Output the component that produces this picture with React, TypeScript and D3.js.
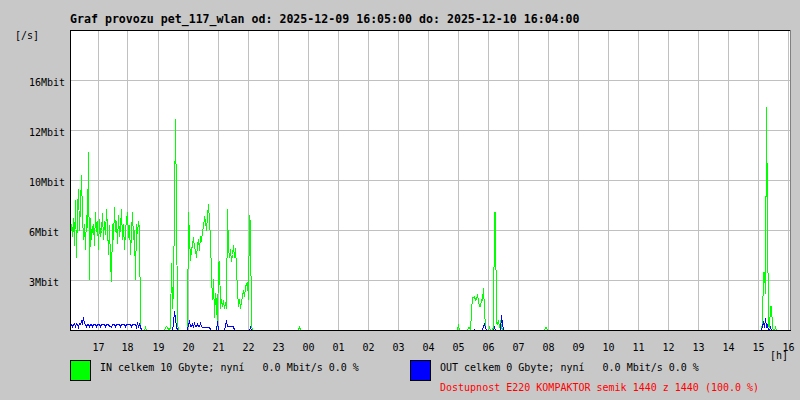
import React from "react";
import * as d3 from "d3";

const TITLE = "Graf provozu pet_117_wlan od: 2025-12-09 16:05:00 do: 2025-12-10 16:04:00";
const Y_UNIT_LABEL = "[/s]";
const X_UNIT_LABEL = "[h]";
const Y_MAX = 20;
const Y_TICK_VALUES = [10 / 3, 20 / 3, 10, 40 / 3, 50 / 3];
const Y_TICK_LABELS = ["3Mbit", "6Mbit", "10Mbit", "12Mbit", "16Mbit"];
const HOUR_LABELS = ["17", "18", "19", "20", "21", "22", "23", "00", "01", "02", "03", "04", "05", "06", "07", "08", "09", "10", "11", "12", "13", "14", "15", "16"];
const FIRST_HOUR_OFFSET_MIN = 55; // 17:00 is 55 min after 16:05
const TOTAL_MIN = 1440;
const STEP_MIN = 2;

// segment start (minutes after 16:05)
const SEGMENT_STARTS = [0, 150, 190, 236, 456, 776, 950, 1384];

// IN traffic (Mbit/s)
const IN_A = [6.6, 7.1, 6.3, 7.5, 5.7, 8.7, 4.9, 8.1, 9.4, 6.7, 8.4, 10.3, 7.7, 6.1, 7.1, 5.4, 7.7, 6.9, 11.9, 3.4, 7.5, 6.1, 6.9, 7.1, 5.7, 7.9, 6.6, 7.3, 5.4, 7.4, 6.3, 6.7, 7.8, 6.1, 7.3, 6.4, 8.1, 6.9, 5.1, 7.0, 4.6, 3.3, 7.1, 6.1, 8.2, 6.6, 7.3, 5.8, 7.7, 6.3, 6.9, 8.1, 6.1, 7.1, 5.4, 6.7, 7.4, 7.9, 6.2, 7.0, 5.1, 6.6, 7.9, 6.1, 6.7, 3.4, 7.1, 6.5, 7.3, 6.9, 0.4, 0];
const IN_A2 = [0.2];
const IN_B = [0.2, 0.3, 0.2, 0.1, 0, 0.3, 4.5, 1.5, 2.7, 8.3, 14.1, 8.3, 0.5, 0];
const IN_C = [7.9, 6.2, 4.7, 5.4, 5.7, 6.2, 5.5, 5.4, 4.9, 5.7, 6.1, 5.3, 6.3, 5.9, 6.7, 6.9, 7.6, 7.3, 6.7, 7.7, 8.4, 7.3, 6.2, 3.6, 2.1, 3.4, 0.9, 2.5, 1.9, 0.3, 4.5, 4.6, 1.5, 2.1, 1.6, 2.0, 1.5, 1.9, 1.5, 8.1, 5.5, 4.9, 5.4, 4.6, 5.1, 5.7, 4.9, 5.5, 4.2, 2.6, 1.6, 2.1, 1.5, 1.9, 2.3, 2.7, 2.3, 2.9, 3.1, 3.2, 2.1, 7.7, 7.1, 0.4, 0];
const IN_D = [0.1, 0.2, 0.1, 0];
const IN_E = [0.4, 0, 0, 0, 0, 0, 0, 0, 0, 0, 0.2, 0.2, 0, 1.3, 2.2, 2.2, 2.3, 2.0, 2.1, 2.4, 2.0, 1.6, 1.6, 2.1, 2.0, 2.8, 1.4, 0.2, 0, 0, 0, 0.2, 0, 0, 0, 0.3, 7.9, 7.9, 0.5, 0.4, 0.7, 0.2, 0.7, 0.3, 0];
const IN_F = [0.2, 0.2, 0];
const IN_G = [0.6, 3.9, 3.9, 2.5, 14.9, 7.5, 0.3, 0.2, 1.6, 1.6, 0.2, 0, 0, 0.2, 0];

// OUT traffic (Mbit/s)
const OUT_A = [0.4, 0.4, 0.3, 0.4, 0.5, 0.3, 0.5, 0.4, 0.2, 0.5, 0.4, 0.6, 0.5, 0.9, 0.5, 0.4, 0.3, 0.4, 0.4, 0.3, 0.4, 0.4, 0.3, 0.4, 0.4, 0.4, 0.3, 0.4, 0.4, 0.4, 0.3, 0.4, 0.4, 0.4, 0.4, 0.3, 0.4, 0.4, 0.4, 0.3, 0.3, 0.2, 0.4, 0.4, 0.4, 0.3, 0.4, 0.4, 0.4, 0.4, 0.3, 0.4, 0.4, 0.4, 0.4, 0.3, 0.4, 0.4, 0.4, 0.4, 0.4, 0.3, 0.4, 0.4, 0.4, 0.4, 0.2, 0.5, 0.3, 0.4, 0.3, 0];
const OUT_B = [0, 0, 0, 0, 0, 0, 0, 0, 0.5, 1.3, 0.8, 0.3, 0, 0];
const OUT_C = [0.4, 0.6, 0.3, 0.3, 0.4, 0.3, 0.5, 0.3, 0.3, 0.4, 0.3, 0.3, 0.5, 0.3, 0.2, 0.2, 0.2, 0.2, 0.2, 0.2, 0.2, 0.2, 0.1, 0, 0, 0, 0, 0, 0, 0.6, 0, 0, 0, 0, 0, 0, 0, 0.3, 0.7, 0.3, 0.3, 0.3, 0.3, 0.3, 0.3, 0.3, 0, 0, 0, 0, 0, 0, 0, 0, 0, 0, 0, 0, 0, 0, 0, 0, 0.2, 0, 0];
const OUT_E = [0, 0, 0, 0, 0, 0, 0, 0, 0, 0, 0, 0, 0, 0, 0, 0, 0.1, 0, 0, 0, 0, 0, 0, 0, 0, 0.3, 0.4, 0.2, 0, 0, 0, 0, 0, 0, 0, 0, 0.2, 0, 0, 0, 0, 0, 0, 1.0, 0.5];
const OUT_G = [0.3, 0.6, 0.2, 0.8, 0.2, 0.4, 0, 0, 0.2, 0, 0, 0, 0, 0, 0];

const IN_SEGMENTS = [IN_A, IN_A2, IN_B, IN_C, IN_D, IN_E, IN_F, IN_G];
const OUT_SEGMENTS = [OUT_A, [], OUT_B, OUT_C, [], OUT_E, [], OUT_G];

const LEGEND_IN = "IN celkem 10 Gbyte; nyní   0.0 Mbit/s 0.0 %";
const LEGEND_OUT = "OUT celkem 0 Gbyte; nyní   0.0 Mbit/s 0.0 %";
const AVAILABILITY = "Dostupnost E220 KOMPAKTOR semik 1440 z 1440 (100.0 %)";

const BG = "#c8c8c8";
const GRID = "#c0c0c0";
const IN_COLOR = "#00ff00";
const OUT_COLOR = "#0000ff";
const MONO = "'DejaVu Sans Mono', 'Liberation Mono', monospace";

function buildSeries(segments: number[][]): number[] {
  const n = TOTAL_MIN / STEP_MIN;
  const s = new Array(n).fill(0);
  segments.forEach((seg, k) => {
    const base = SEGMENT_STARTS[k] / STEP_MIN;
    seg.forEach((v, i) => {
      if (base + i < n) s[base + i] = v;
    });
  });
  return s;
}

export default function App() {
  const left = 70, right = 790, top = 30, bottom = 330;
  const x = d3.scaleLinear().domain([0, TOTAL_MIN]).range([left, right]);
  const y = d3.scaleLinear().domain([0, Y_MAX]).range([bottom, top]);

  const inSeries = buildSeries(IN_SEGMENTS);
  const outSeries = buildSeries(OUT_SEGMENTS);

  const line = d3
    .line<number>()
    .x((_, i) => Math.round(x(i * STEP_MIN)) + 0.5)
    .y((d) => Math.round(y(d)) + 0.5);

  const hourTs = HOUR_LABELS.map((_, i) => FIRST_HOUR_OFFSET_MIN + i * 60);

  return (
    <svg
      width={800}
      height={400}
      style={{ position: "absolute", left: 0, top: 0, display: "block" }}
      fontFamily={MONO}
    >
      <rect x={0} y={0} width={800} height={400} fill={BG} />
      <rect x={left} y={top} width={right - left} height={bottom - top} fill="#ffffff" />

      {/* horizontal grid */}
      {Y_TICK_VALUES.map((v, i) => (
        <line
          key={"hg" + i}
          x1={left}
          x2={right}
          y1={Math.round(y(v)) + 0.5}
          y2={Math.round(y(v)) + 0.5}
          stroke={GRID}
          strokeWidth={1}
          shapeRendering="crispEdges"
        />
      ))}
      {/* vertical grid */}
      {hourTs.map((t, i) => (
        <line
          key={"vg" + i}
          x1={Math.round(x(t)) + 0.5}
          x2={Math.round(x(t)) + 0.5}
          y1={top}
          y2={bottom}
          stroke={GRID}
          strokeWidth={1}
          shapeRendering="crispEdges"
        />
      ))}

      <path d={line(inSeries) || ""} fill="none" stroke={IN_COLOR} strokeWidth={1} shapeRendering="crispEdges" />
      <path d={line(outSeries) || ""} fill="none" stroke={OUT_COLOR} strokeWidth={1} shapeRendering="crispEdges" />

      {/* borders */}
      <line x1={left} x2={right} y1={top + 0.5} y2={top + 0.5} stroke="#000" strokeWidth={1} shapeRendering="crispEdges" />
      <line x1={right + 0.5} x2={right + 0.5} y1={top} y2={bottom} stroke="#808080" strokeWidth={1} shapeRendering="crispEdges" />
      <line x1={left + 0.5} x2={left + 0.5} y1={top} y2={bottom + 1} stroke="#000" strokeWidth={1} shapeRendering="crispEdges" />
      <line x1={left} x2={right + 1} y1={bottom + 0.5} y2={bottom + 0.5} stroke="#000" strokeWidth={1} shapeRendering="crispEdges" />

      {/* title */}
      <text x={70} y={23} fontSize={11.6} fontWeight="bold" fill="#000" style={{ whiteSpace: "pre" }}>
        {TITLE}
      </text>

      {/* y labels */}
      <text x={15} y={39} fontSize={10} fill="#000">{Y_UNIT_LABEL}</text>
      {Y_TICK_VALUES.map((v, i) => (
        <text key={"yl" + i} x={29} y={Math.round(y(v)) + 5.5} fontSize={10} fill="#000">
          {Y_TICK_LABELS[i]}
        </text>
      ))}

      {/* x labels */}
      {hourTs.map((t, i) => (
        <text key={"xl" + i} x={Math.round(x(t)) + 0.5} y={351} fontSize={10} fill="#000" textAnchor="middle">
          {HOUR_LABELS[i]}
        </text>
      ))}
      <text x={770} y={359} fontSize={10} fill="#000">{X_UNIT_LABEL}</text>

      {/* legend */}
      <rect x={70.5} y={360.5} width={20} height={20} fill={IN_COLOR} stroke="#000" strokeWidth={1} shapeRendering="crispEdges" />
      <text x={100} y={371} fontSize={10} fill="#000" style={{ whiteSpace: "pre" }}>{LEGEND_IN}</text>
      <rect x={410.5} y={360.5} width={20} height={20} fill={OUT_COLOR} stroke="#000" strokeWidth={1} shapeRendering="crispEdges" />
      <text x={440} y={371} fontSize={10} fill="#000" style={{ whiteSpace: "pre" }}>{LEGEND_OUT}</text>
      <text x={440} y={391} fontSize={10} fill="#ff0000" style={{ whiteSpace: "pre" }}>{AVAILABILITY}</text>
    </svg>
  );
}
